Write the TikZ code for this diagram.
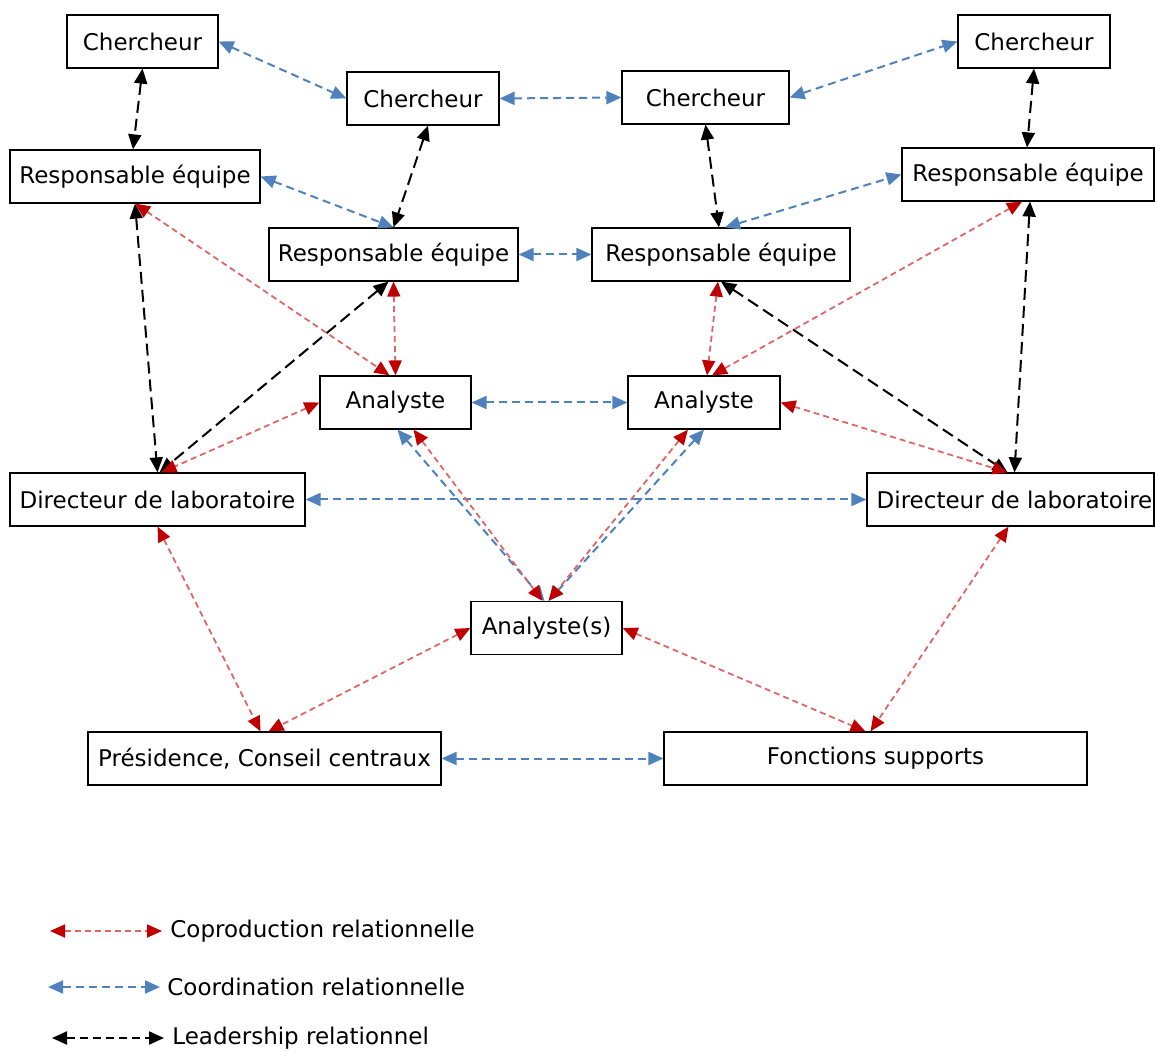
\documentclass[tikz,border=0pt]{standalone}
\usepackage{fontspec}
\setmainfont{DejaVu Sans}
\usetikzlibrary{arrows.meta,calc}
\definecolor{blueC}{HTML}{4F81BD}
\definecolor{redTip}{HTML}{C00000}
\definecolor{redLine}{HTML}{E06666}
\begin{document}
\begin{tikzpicture}[x=0.5pt,y=-0.5pt,
  box/.style={draw, line width=0.6pt, minimum height=26.5pt, inner sep=0pt, font=\fontsize{11.5pt}{13pt}\selectfont},
  lbl/.style={anchor=west, inner sep=0pt, font=\fontsize{11.5pt}{13pt}\selectfont},
  coord/.style={draw=blueC, line width=1pt, dash pattern=on 4pt off 2.5pt,
    {Triangle[length=7.5pt,width=6.5pt]}-{Triangle[length=7.5pt,width=6.5pt]}},
  lead/.style={draw=black, line width=1pt, dash pattern=on 6pt off 3pt,
    {Triangle[length=7.5pt,width=6.5pt]}-{Triangle[length=7.5pt,width=6.5pt]}},
  copro/.style={draw=redLine, line width=0.9pt, dash pattern=on 3pt off 2pt,
    {Triangle[length=7.5pt,width=6.5pt,color=redTip]}-{Triangle[length=7.5pt,width=6.5pt,color=redTip]}}
]
\useasboundingbox (0,0) rectangle (1155,1052);

% boxes
\node[box, minimum width=75.5pt] (ch1) at (142.5,41.5) {Chercheur};
\node[box, minimum width=76pt] (ch2) at (423,98.5) {Chercheur};
\node[box, minimum width=83.5pt] (ch3) at (705.5,97.5) {Chercheur};
\node[box, minimum width=76pt] (ch4) at (1034,41.5) {Chercheur};
\node[box, minimum width=125pt] (reL) at (135,176.5) {Responsable équipe};
\node[box, minimum width=124.5pt] (re2) at (393.5,254.5) {Responsable équipe};
\node[box, minimum width=129pt] (re3) at (721,254.5) {Responsable équipe};
\node[box, minimum width=126pt] (reR) at (1028,174.5) {Responsable équipe};
\node[box, minimum width=75.5pt] (anL) at (395.5,402.5) {Analyste};
\node[box, minimum width=76pt] (anR) at (704,402.5) {Analyste};
\node[box, minimum width=147.5pt] (dirL) at (157.5,499.5) {Directeur de laboratoire};
\node[box, minimum width=143.5pt] (dirR) at (1010.5,499.5) {\hspace*{4pt}Directeur de laboratoire};
\node[box, minimum width=75.5pt] (ans) at (546.5,628) {Analyste(s)};
\node[box, minimum width=176.5pt] (pres) at (264.5,758.5) {Présidence, Conseil centraux};
\node[box, minimum width=211.5pt] (fonc) at (875.5,758.5) {Fonctions supports};

% coordination (blue)
\draw[coord] (ch1.east) -- (ch2.west);
\draw[coord] (ch2.east) -- (ch3.west);
\draw[coord] (ch3.east) -- (ch4.west);
\draw[coord] (reL.east) -- (re2.north);
\draw[coord] (re2.east) -- (re3.west);
\draw[coord] ($(re3.north)+(4,0)$) -- (reR.west);
\draw[coord] (anL.east) -- (anR.west);
\draw[coord] (dirL.east) -- (dirR.west);
\draw[coord] ($(anL.south)+(2,0)$) -- ($(ans.north)+(-2,0)$);
\draw[coord] (anR.south) -- ($(ans.north)+(2,0)$);
\draw[coord] (pres.east) -- (fonc.west);

% leadership (black)
\draw[lead] (ch1.south) -- ($(reL.north)+(-2,0)$);
\draw[lead] ($(ch2.south)+(5,0)$) -- (re2.north);
\draw[lead] (ch3.south) -- ($(re3.north)+(-2,0)$);
\draw[lead] (ch4.south) -- ($(reR.north)+(-1,0)$);
\draw[lead] (reL.south) -- (dirL.north);
\draw[lead] ($(re2.south)+(-5,0)$) -- ($(dirL.north)+(2,0)$);
\draw[lead] (re3.south) -- ($(dirR.north)+(-3,0)$);
\draw[lead] ($(reR.south)+(2,0)$) -- ($(dirR.north)+(4,0)$);

% coproduction (red)
\draw[copro] (reL.south) -- ($(anL.north)+(-6,0)$);
\draw[copro] (re2.south) -- (anL.north);
\draw[copro] ($(re3.south)+(-3,0)$) -- ($(anR.north)+(3,0)$);
\draw[copro] ($(reR.south)+(-6,0)$) -- ($(anR.north)+(8,0)$);
\draw[copro] (anL.west) -- ($(dirL.north)+(4,0)$);
\draw[copro] (anR.east) -- ($(dirR.north)+(-3,0)$);
\draw[copro] ($(anL.south)+(18,0)$) -- ($(ans.north)+(-4,0)$);
\draw[copro] ($(anR.south)+(-16,0)$) -- ($(ans.north)+(2,0)$);
\draw[copro] (dirL.south) -- ($(pres.north)+(-4,0)$);
\draw[copro] (ans.west) -- ($(pres.north)+(4,0)$);
\draw[copro] (ans.east) -- ($(fonc.north)+(-10,0)$);
\draw[copro] ($(dirR.south)+(-2,0)$) -- ($(fonc.north)+(-5,0)$);

% legend
\coordinate (l1a) at (50,931);
\coordinate (l1b) at (162,931);
\node[lbl] (t1) at (170,931) {Coproduction relationnelle};
\draw[copro] (l1a) -- (l1b);
\coordinate (l2a) at (48,987);
\coordinate (l2b) at (160,987);
\node[lbl] (t2) at (167,987) {Coordination relationnelle};
\draw[coord] (l2a) -- (l2b);
\coordinate (l3a) at (52,1038);
\coordinate (l3b) at (164,1038);
\node[lbl] (t3) at (172,1038) {Leadership relationnel};
\draw[lead, dash pattern=on 4pt off 2.5pt] (l3a) -- (l3b);
\end{tikzpicture}
\end{document}
